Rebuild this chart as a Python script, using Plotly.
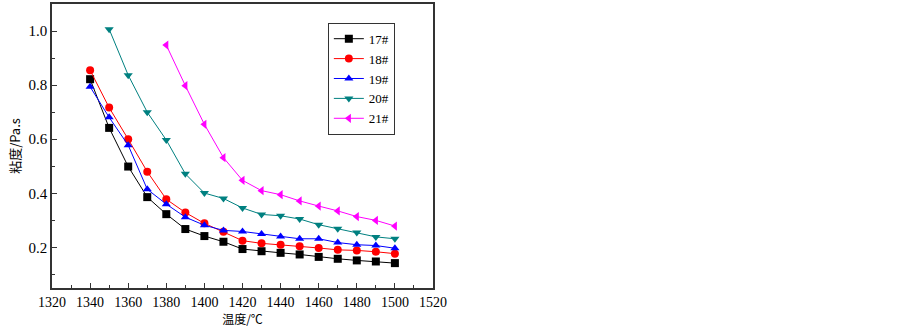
import plotly.graph_objects as go

temps = [1340, 1350, 1360, 1370, 1380, 1390, 1400, 1410, 1420, 1430, 1440, 1450, 1460, 1470, 1480, 1490, 1500]
temps_20 = temps[1:]
temps_21 = temps[4:]

v17 = [0.822, 0.642, 0.499, 0.386, 0.323, 0.268, 0.242, 0.221, 0.194, 0.186, 0.180, 0.174, 0.165, 0.158, 0.152, 0.148, 0.142]
v18 = [0.855, 0.717, 0.600, 0.480, 0.378, 0.329, 0.289, 0.258, 0.225, 0.215, 0.210, 0.204, 0.198, 0.191, 0.189, 0.184, 0.177]
v19 = [0.794, 0.681, 0.578, 0.415, 0.360, 0.312, 0.282, 0.263, 0.259, 0.250, 0.240, 0.232, 0.232, 0.218, 0.210, 0.207, 0.197]
v20 = [1.007, 0.837, 0.700, 0.597, 0.472, 0.401, 0.381, 0.346, 0.322, 0.317, 0.305, 0.284, 0.269, 0.255, 0.239, 0.232]
v21 = [0.948, 0.798, 0.655, 0.532, 0.448, 0.410, 0.395, 0.372, 0.353, 0.335, 0.314, 0.300, 0.279]

names = ["17#", "18#", "19#", "20#", "21#"]
colors = ["#000000", "#ff0000", "#0000ff", "#008080", "#ff00ff"]
symbols = ["square", "circle", "triangle-up", "triangle-down", "triangle-left"]
xs = [temps, temps, temps, temps_20, temps_21]
ys = [v17, v18, v19, v20, v21]

font = "Liberation Serif"
cjk = "Noto Sans CJK SC"

fig = go.Figure()
for n, c, s, x, y in zip(names, colors, symbols, xs, ys):
    fig.add_trace(go.Scatter(
        x=x, y=y, name=n, mode="lines+markers",
        line=dict(color=c, width=1),
        marker=dict(symbol=s, color=c, size=8, line=dict(width=0)),
    ))

axis_common = dict(
    showgrid=False, zeroline=False, showline=True, linecolor="#333333", linewidth=1.5,
    mirror=True, ticks="inside", ticklen=5, tickcolor="#333333", automargin=False,
)

fig.update_layout(
    width=903, height=327,
    margin=dict(l=52, r=470, t=4, b=39),
    paper_bgcolor="white", plot_bgcolor="white",
    font=dict(family=font, size=15, color="black"),
    xaxis=dict(range=[1320, 1520], dtick=20, tick0=1320, ticklabelstandoff=0,
               tickfont=dict(family=font, size=14, color="black"),
               minor=dict(ticks="inside", ticklen=3, dtick=10, tickcolor="#333333"),
               title=dict(text="温度/℃", font=dict(family=cjk, size=12), standoff=4),
               **axis_common),
    yaxis=dict(range=[0.05, 1.1], dtick=0.2, tick0=0, tickformat=".1f",
               tickfont=dict(family=font, size=15, color="black"),
               minor=dict(ticks="inside", ticklen=3, dtick=0.1, tickcolor="#333333"),
               title=dict(text="粘度/Pa.s", font=dict(family=cjk, size=13), standoff=5),
               **axis_common),
    legend=dict(x=0.724, y=0.934, xanchor="left", yanchor="top",
                bordercolor="#333333", borderwidth=1, bgcolor="white",
                font=dict(family=font, size=13), itemwidth=30,
                tracegroupgap=0),
    showlegend=True,
)

fig.write_html("out.html", config={"displayModeBar": False},
               post_script="document.body.style.margin='0';document.body.style.overflow='hidden';")
